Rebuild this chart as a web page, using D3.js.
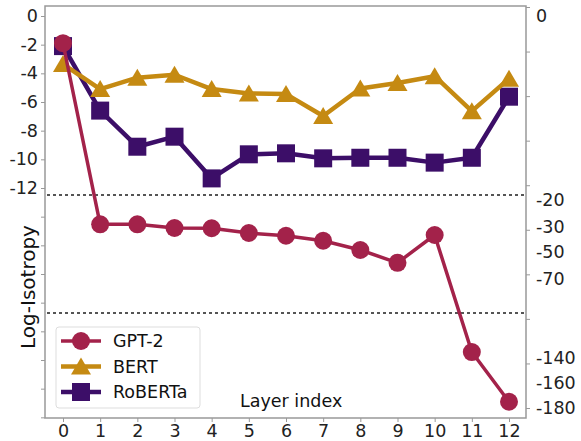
<!DOCTYPE html>
<html>
<head>
<meta charset="utf-8">
<script src="https://d3js.org/d3.v7.min.js"></script>
<style>
  body { margin: 0; background: #fff; }
  text { font-family: "DejaVu Sans", sans-serif; }
</style>
</head>
<body>
<script>
var width = 581, height = 441;
var margin = {top: 6, right: 55, bottom: 23, left: 45};

// layers on the x axis
var layers = [0, 1, 2, 3, 4, 5, 6, 7, 8, 9, 10, 11, 12];

// log-isotropy values per model
var gpt2 = [-1.9, -29, -29, -30.8, -31, -34.8, -37, -41, -48.4, -58, -36.4, -134.7, -175];
var bert = [-3.35, -5.1, -4.3, -4.1, -5.1, -5.4, -5.45, -6.98, -5.06, -4.67, -4.2, -6.64, -4.37];
var roberta = [-2.1, -6.6, -9.12, -8.42, -11.33, -9.65, -9.58, -9.93, -9.89, -9.89, -10.23, -9.89, -5.63];

// tick labels
var leftTicks = [0, -2, -4, -6, -8, -10, -12];
var rightLabels = [0, -20, -30, -50, -70, -140, -160, -180];

var series = [
  {name: "GPT-2", values: gpt2, color: "#a3224a", marker: "circle", lw: 3.5},
  {name: "BERT", values: bert, color: "#c58a12", marker: "triangle", lw: 4.5},
  {name: "RoBERTa", values: roberta, color: "#3c0e68", marker: "square", lw: 4.5}
];

var fs = 17.5;

var svg = d3.select("body").append("svg")
  .attr("width", width)
  .attr("height", height);

var x = d3.scaleLinear()
  .domain([0, 12])
  .range([63, 509]);

// left axis: plain linear scale
var yLeft = d3.scaleLinear()
  .domain([0, -12])
  .range([16, 188]);

// GPT-2 values live on a piecewise scale labelled on the right
var yGpt = d3.scaleLinear()
  .domain([0, -12, -20, -30, -50, -70, -140, -160, -180])
  .range([yLeft(0), yLeft(-12), 200, 227, 252, 279, 358, 383, 408]);

// right spine tick marks (uniform)
var yRight = d3.scaleLinear()
  .domain([0, -180])
  .range([7, 408]);

var plotBottom = height - margin.bottom; // 418
var plotRight = width - margin.right;    // 526

// frame
svg.append("rect")
  .attr("x", margin.left)
  .attr("y", margin.top)
  .attr("width", plotRight - margin.left)
  .attr("height", plotBottom - margin.top)
  .attr("fill", "none")
  .attr("stroke", "#999")
  .attr("stroke-width", 1.5);

// left axis
var leftAxis = svg.append("g")
  .attr("transform", "translate(" + margin.left + ",0)")
  .call(d3.axisLeft(yLeft).tickValues(d3.range(0, -29, -2)).tickSize(4));
leftAxis.select(".domain").remove();
leftAxis.selectAll(".tick line").attr("stroke", "#999");
leftAxis.selectAll(".tick text").attr("font-size", fs).attr("fill", "#222")
  .text(function(d) { return leftTicks.indexOf(d) >= 0 ? (d < 0 ? "-" + (-d) : d) : ""; });

// right axis ticks
var rightAxis = svg.append("g")
  .attr("transform", "translate(" + plotRight + ",0)")
  .call(d3.axisRight(yRight).tickValues(d3.range(0, -181, -20)).tickSize(4).tickFormat(""));
rightAxis.select(".domain").remove();
rightAxis.selectAll(".tick line").attr("stroke", "#999");

svg.append("g").selectAll("text")
  .data(rightLabels)
  .enter().append("text")
  .attr("x", plotRight + 10)
  .attr("y", function(d) { return yGpt(d); })
  .attr("dy", "0.35em")
  .attr("font-size", fs)
  .attr("fill", "#222")
  .text(function(d) { return d < 0 ? "-" + (-d) : d; });

// bottom axis
var xAxis = svg.append("g")
  .attr("transform", "translate(0," + plotBottom + ")")
  .call(d3.axisBottom(x).tickValues(layers).tickSize(4).tickPadding(3));
xAxis.select(".domain").remove();
xAxis.selectAll(".tick line").attr("stroke", "#999");
xAxis.selectAll(".tick text").attr("font-size", fs).attr("fill", "#222");

// dashed break lines
svg.append("g").selectAll("line")
  .data([195, 313])
  .enter().append("line")
  .attr("x1", margin.left + 2)
  .attr("x2", plotRight - 2)
  .attr("y1", function(d) { return d; })
  .attr("y2", function(d) { return d; })
  .attr("stroke", "#555")
  .attr("stroke-width", 2)
  .attr("stroke-dasharray", "3,3");

// axis labels
svg.append("text")
  .attr("text-anchor", "middle")
  .attr("transform", "translate(35,287)rotate(-90)")
  .attr("font-size", 20)
  .attr("fill", "#111")
  .text("Log-Isotropy");

svg.append("text")
  .attr("x", 240)
  .attr("y", 407)
  .attr("font-size", fs)
  .attr("fill", "#111")
  .text("Layer index");

function drawMarker(g, type, color, cx, cy) {
  if (type === "circle") {
    g.append("circle").attr("cx", cx).attr("cy", cy).attr("r", 9).attr("fill", color);
  } else if (type === "triangle") {
    g.append("path")
      .attr("d", "M" + cx + "," + (cy - 9) + "L" + (cx + 10) + "," + (cy + 8) + "L" + (cx - 10) + "," + (cy + 8) + "Z")
      .attr("fill", color);
  } else {
    g.append("rect").attr("x", cx - 9).attr("y", cy - 9).attr("width", 18).attr("height", 18).attr("fill", color);
  }
}

// draw RoBERTa, BERT, then GPT-2 on top
[series[2], series[1], series[0]].forEach(function(s) {
  var yScale = s.name === "GPT-2" ? yGpt : yLeft;
  var line = d3.line()
    .x(function(d, i) { return x(layers[i]); })
    .y(function(d) { return yScale(d); });
  var g = svg.append("g");
  g.append("path")
    .datum(s.values)
    .attr("d", line)
    .attr("fill", "none")
    .attr("stroke", s.color)
    .attr("stroke-width", s.lw)
    .attr("stroke-linejoin", "round");
  s.values.forEach(function(v, i) {
    drawMarker(g, s.marker, s.color, x(layers[i]), yScale(v));
  });
});

// legend
var legend = svg.append("g");
legend.append("rect")
  .attr("x", 56).attr("y", 327)
  .attr("width", 144).attr("height", 81)
  .attr("rx", 3)
  .attr("fill", "#fff")
  .attr("fill-opacity", 0.85)
  .attr("stroke", "#ddd");

series.forEach(function(s, i) {
  var ly = 341 + i * 25.5;
  var lg = legend.append("g");
  lg.append("line")
    .attr("x1", 61).attr("x2", 101)
    .attr("y1", ly).attr("y2", ly)
    .attr("stroke", s.color)
    .attr("stroke-width", s.lw);
  drawMarker(lg, s.marker, s.color, 81, ly);
  lg.append("text")
    .attr("x", 113).attr("y", ly)
    .attr("dy", "0.35em")
    .attr("font-size", fs)
    .attr("fill", "#111")
    .text(s.name);
});
</script>
</body>
</html>
